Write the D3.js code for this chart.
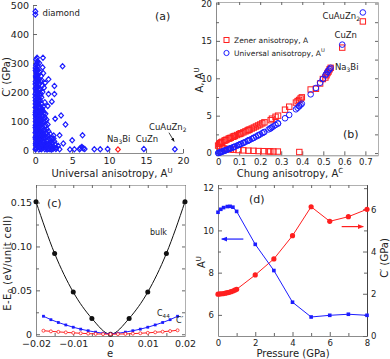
<!DOCTYPE html>
<html>
<head>
<meta charset="utf-8">
<script src="https://cdn.jsdelivr.net/npm/d3@7"></script>
<style>
  body { margin: 0; background: #fff; }
  text { font-family: "DejaVu Sans", Verdana, sans-serif; fill: #222; }
</style>
</head>
<body>
<svg id="fig" width="390" height="359"></svg>
<script>
// (a) C' (GPa) against universal anisotropy A^U, one pair per compound
const compounds = [
  [0.02,3],[0.15,7],[0.3,11],[0.08,16],[0.45,20],[0.22,24],[0.1,29],[0.38,33],[0.05,38],[0.28,42],[0.6,46],[0.12,50],
  [0.33,55],[0.02,60],[0.2,64],[0.5,68],[0.09,73],[0.27,77],[0.4,82],[0.04,86],[0.18,91],[0.55,95],[0.12,100],[0.32,104],
  [0.06,109],[0.24,113],[0.45,118],[0.02,122],[0.15,127],[0.35,131],[0.08,136],[0.26,140],[0.5,145],[0.11,150],[0.3,154],
  [0.04,159],[0.2,163],[0.42,168],[0.09,172],[0.25,177],[0.02,181],[0.16,186],[0.36,190],[0.07,195],[0.28,199],[0.12,204],
  [0.48,208],[0.03,213],[0.2,217],[0.33,222],[0.1,226],[0.24,231],[0.05,236],[0.4,240],[0.14,245],[0.3,250],[0.07,255],
  [0.2,260],[0.45,265],[0.12,270],[0.28,276],[0.05,283],[0.35,290],[0.18,296],[0.3,305],[0.12,312],[0.25,318],
  [0.1,5],[0.25,15],[0.05,22],[0.35,28],[0.18,35],[0.02,44],[0.4,50],[0.22,58],[0.1,66],[0.3,70],[0.03,78],[0.15,84],
  [0.35,88],[0.25,95],[0.05,98],[0.2,106],[0.4,112],[0.1,116],[0.28,121],[0.04,130],[0.2,134],[0.4,138],[0.15,143],
  [0.03,147],[0.22,150],[0.38,157],[0.1,161],[0.28,166],[0.05,170],[0.15,175],[0.33,182],[0.22,188],[0.02,192],
  [0.4,196],[0.18,201],[0.08,210],[0.3,214],[0.15,220],[0.03,228],[0.3,234],[0.2,240],[0.1,250],[0.35,256],[0.15,265],
  [0.05,274],[0.22,282],[0.1,292],[0.25,300],
  [0.7,5],[0.9,12],[1.1,18],[0.65,26],[0.85,34],[1.2,40],[0.75,48],[1.0,57],[0.6,66],[0.95,74],[1.3,82],[0.7,90],
  [0.88,100],[1.1,108],[0.62,118],[0.8,128],[1.05,135],[0.7,146],[0.9,158],[0.65,170],[0.85,182],[1.2,128],[0.75,195],
  [0.6,210],[0.95,222],[0.7,238],[0.8,255],[0.6,270],[1.0,285],[0.55,300],[1.05,318],
  [0.5,2],[0.55,10],[0.8,20],[0.4,25],[1.0,28],[0.75,37],[0.5,42],[0.95,52],[0.45,58],[0.7,62],[0.38,70],[0.8,78],
  [0.55,85],[1.0,92],[0.65,102],[0.45,110],[0.9,116],[0.4,124],[0.6,133],[0.95,142],[0.5,156],[0.35,162],[0.55,176],
  [0.7,188],[0.45,200],[0.55,228],[0.45,245],
  [0.6,8],[0.85,3],[1.05,8],[0.65,15],[0.9,22],[1.15,28],[0.6,32],[0.85,44],[1.05,48],[0.6,55],[0.8,60],[1.15,70],
  [0.55,76],[0.85,88],[1.15,98],[0.75,108],[0.55,112],[1.0,120],[0.75,138],[0.6,150],[0.85,140],
  [1.3,3],[1.5,8],[1.8,5],[2.1,10],[2.4,4],[1.4,15],[1.7,20],[2.0,18],[2.3,25],[1.25,28],[1.6,32],[1.9,38],[2.6,30],
  [1.35,45],[1.75,50],[2.2,42],[1.5,60],[1.3,70],[1.8,65],[1.45,85],[2.4,12],[2.7,20],[2.9,8],[3.1,15],[2.5,50],
  [1.55,105],[1.4,125],[1.2,95],[1.15,60],[1.2,10],[1.6,2],[2.0,3],[1.1,150],[1.3,165],[1.0,200],[1.2,215],[0.9,240],[1.1,265],
  [1.4,22],[1.65,12],[1.95,26],[2.2,2],[1.3,38],[1.55,44],[2.05,55],[1.25,52],[1.6,72],[1.4,100],[2.5,40],[2.8,4],
  [3.3,3],[1.3,112],[1.7,88],[2.2,32],[1.9,14],[2.6,8],
  [3.7,289],[1.8,244],[1.35,232],[2.6,221],[2.6,193],[1.8,193],[2.25,167],[1.7,152],[3.5,119],[2.7,108],[4.1,88],
  [3.3,51],[5.0,34],[6.4,51],[3.8,23],[6.1,7],[6.3,11],[6.5,6],[6.7,4],[6.0,3],[4.7,2],[5.3,3],[8.0,3],[8.8,3],
  [9.8,4],[14.7,4],[18.9,3],
  [0.02,467],[0.02,478]
];
const na3biPoint = [[11.2, 2]];

// (b) Chung anisotropy A^C against Zener A and universal A^U
const chung = [0,0.005,0.01,0.015,0.02,0.03,0.035,0.04,0.05,0.055,0.06,0.07,0.075,0.08,0.09,0.1,0.105,0.11,0.12,0.13,
  0.14,0.145,0.15,0.16,0.17,0.18,0.19,0.2,0.21,0.22,0.25,0.256,0.273,0.285,0.318,0.338,0.37,0.378,0.385,0.392,0.398,
  0.44,0.465,0.485,0.498,0.51,0.515,0.52,0.525,0.53,0.535,0.59,0.688,
  0.01,0.02,0.03,0.045,0.06,0.073,0.097,0.12,0.144,0.168,0.192,0.216,0.24,0.248,0.263,0.284,0.386];
const zener = [1,1.23,1.34,1.43,1.51,1.65,1.72,1.79,1.92,1.98,2.04,2.17,2.23,2.29,2.41,2.53,2.59,2.65,2.77,2.9,
  3.02,3.09,3.15,3.28,3.41,3.55,3.69,3.82,3.97,4.11,4.4,4.6,4.85,5.0,5.8,6.2,6.75,6.95,7.1,7.3,7.45,
  8.5,8.6,9.3,9.9,10.1,10.4,10.7,10.9,11.2,11.4,14.1,17.6,
  0.75,0.66,0.6,0.54,0.49,0.45,0.4,0.36,0.32,0.3,0.27,0.25,0.23,0.22,0.21,0.2,0.14];
const universal = [0,0.05,0.1,0.15,0.2,0.31,0.36,0.42,0.53,0.58,0.64,0.75,0.81,0.87,0.99,1.11,1.17,1.24,1.36,1.49,
  1.63,1.7,1.76,1.9,2.05,2.2,2.35,2.5,2.66,2.82,3.3,3.45,3.75,3.95,4.65,5.1,5.85,6.05,6.25,6.45,6.6,
  7.85,8.7,9.4,9.9,10.4,10.6,10.85,11.05,11.2,11.4,14.5,18.8,
  0.1,0.2,0.31,0.47,0.64,0.79,1.07,1.36,1.68,2.02,2.38,2.76,3.16,3.3,3.57,3.97,6.29];

// (c) E - E0 (eV/unit cell) against strain e
const strainBulk = [-0.02,-0.015,-0.01,-0.005,0,0.005,0.01,0.015,0.02];
const energyBulk = [0.151,0.092,0.048,0.018,0,0.018,0.048,0.092,0.151];
const strainShear = [-0.018,-0.016,-0.014,-0.012,-0.01,-0.008,-0.006,-0.004,-0.002,0,
  0.002,0.004,0.006,0.008,0.01,0.012,0.014,0.016,0.018];
const energyC44 = [0.0205,0.0166,0.0134,0.0106,0.008,0.0058,0.004,0.0024,0.0011,0.0003,
  0.0011,0.0024,0.004,0.0058,0.008,0.0106,0.0134,0.0166,0.0205];
const energyCp = [0.004,0.0033,0.0027,0.0021,0.0016,0.0011,0.0007,0.0004,0.0002,0.0001,
  0.0002,0.0004,0.0007,0.0011,0.0016,0.0022,0.0029,0.0036,0.0045];

// (d) Na3Bi under pressure (GPa)
const pressureAU = [0,0.15,0.3,0.5,0.65,0.8,1.0,2,3,4,5,6,7,8];
const anisoAU = [10.86,11.0,11.08,11.13,11.14,11.1,10.9,9.34,8.1,6.6,5.9,5.98,6.03,5.98];
const pressureCp = [0,0.1,0.2,0.3,0.4,0.5,0.6,0.7,0.8,0.9,1.0,2,3,4,5,6,7,8];
const shearCp = [1.98,1.99,2.0,2.01,2.03,2.05,2.07,2.1,2.13,2.17,2.21,2.89,3.65,4.75,6.12,5.43,5.65,6.0];

const blue = "#1c1cff", red = "#ff1f1f";
const svg = d3.select("svg#fig");

const defs = svg.append("defs");
[["arrBlue", blue], ["arrRed", red], ["arrBlack", "#111"]].forEach(([id, c]) => {
  defs.append("marker").attr("id", id).attr("viewBox", "0 0 10 10")
    .attr("refX", 9).attr("refY", 5).attr("markerWidth", 5).attr("markerHeight", 5)
    .attr("orient", "auto")
    .append("path").attr("d", "M0,1L10,5L0,9Z").attr("fill", c);
});

function tidy(g, domainColor = "#8c8c8c", size = 9) {
  g.attr("font-family", null).attr("font-size", null);
  g.select(".domain").attr("stroke", domainColor);
  g.selectAll(".tick line").attr("stroke", "#666");
  g.selectAll(".tick text").attr("font-size", size).attr("fill", "#222");
}

// draw the axes of one panel: labelled bottom/left, optional minor ticks and box
function frame(x, y, o) {
  const [xa, xb] = x.range(), [ya, yb] = y.range();
  const fs = o.fontSize || 9.5;
  svg.append("g").attr("transform", `translate(0,${ya})`)
    .call(d3.axisBottom(x).tickValues(o.xTicks).tickFormat(o.xFormat || null)
      .tickSize(-4).tickSizeOuter(0).tickPadding(4))
    .call(g => tidy(g, "#8c8c8c", fs));
  svg.append("g").attr("transform", `translate(${xa},0)`)
    .call(d3.axisLeft(y).tickValues(o.yTicks).tickFormat(o.yFormat || null)
      .tickSize(-4).tickSizeOuter(0).tickPadding(4))
    .call(g => tidy(g, o.leftColor || "#8c8c8c", fs));
  if (o.xMinor) svg.append("g").attr("transform", `translate(0,${ya})`)
    .call(d3.axisBottom(x).tickValues(o.xMinor).tickFormat("").tickSize(-3).tickSizeOuter(0))
    .call(g => { g.select(".domain").remove(); g.selectAll("line").attr("stroke", "#666"); });
  if (o.yMinor) svg.append("g").attr("transform", `translate(${xa},0)`)
    .call(d3.axisLeft(y).tickValues(o.yMinor).tickFormat("").tickSize(-3).tickSizeOuter(0))
    .call(g => { g.select(".domain").remove(); g.selectAll("line").attr("stroke", "#666"); });
  if (o.box) {
    svg.append("g").attr("transform", `translate(0,${yb})`)
      .call(d3.axisTop(x).tickValues(o.xTicks.concat(o.xMinor || [])).tickFormat("").tickSize(-3).tickSizeOuter(0))
      .call(g => tidy(g, "#b0b0b0"));
    if (!o.noRight) svg.append("g").attr("transform", `translate(${xb},0)`)
      .call(d3.axisRight(y).tickValues(o.yTicks.concat(o.yMinor || [])).tickFormat("").tickSize(-3).tickSizeOuter(0))
      .call(g => tidy(g, "#b0b0b0"));
  }
}

// text with optional sub/superscripts: parts are strings or {sub}/{sup}
function label(x, y, parts, o = {}) {
  const size = o.size || 10;
  const t = svg.append("text").attr("x", x).attr("y", y)
    .attr("font-size", size)
    .attr("text-anchor", o.anchor || "start")
    .attr("fill", o.color || "#222");
  if (o.rotate) t.attr("transform", `rotate(${o.rotate},${x},${y})`);
  if (o.spacing) t.attr("letter-spacing", o.spacing);
  let shift = 0;
  parts.forEach(p => {
    if (typeof p === "string") {
      t.append("tspan").attr("dy", -shift).text(p);
      shift = 0;
    } else {
      const d = p.sup ? -4 : 2;
      t.append("tspan").attr("font-size", size * 0.7).attr("dy", d - shift).text(p.sup || p.sub);
      shift = d;
    }
  });
  return t;
}

const zeroOr = fmt => d => (d === 0 ? "0" : d3.format(fmt)(d));

// diamond marker used in (a)
const diamond = { draw(ctx, size) {
  const r = Math.sqrt(size) * 0.62;
  ctx.moveTo(0, -r); ctx.lineTo(r * 0.9, 0); ctx.lineTo(0, r); ctx.lineTo(-r * 0.9, 0); ctx.closePath();
} };

// ---------------- (a) ----------------
const xA = d3.scaleLinear().domain([-0.3, 20]).range([33, 183]);
const yA = d3.scaleLinear().domain([-10, 500]).range([153, 5]);
frame(xA, yA, { xTicks: [0, 5, 10, 15, 20], yTicks: [0, 100, 200, 300, 400, 500] });

svg.append("g").selectAll("path").data(compounds).join("path")
  .attr("transform", d => `translate(${xA(d[0])},${yA(d[1])})`)
  .attr("d", d3.symbol(diamond, 18))
  .attr("fill", "none").attr("stroke", blue).attr("stroke-width", 1.2);
svg.append("g").selectAll("path").data(na3biPoint).join("path")
  .attr("transform", d => `translate(${xA(d[0])},${yA(d[1])})`)
  .attr("d", d3.symbol(diamond, 18))
  .attr("fill", "none").attr("stroke", red).attr("stroke-width", 1.2);

label(xA(1), yA(463), ["diamond"], { size: 8.5 });
label(xA(9.7), yA(27), ["Na", { sub: "3" }, "Bi"], { size: 8.5, color: red });
label(xA(13.6), yA(27), ["CuZn"], { size: 8.5 });
label(xA(15.4), yA(70), ["CuAuZn", { sub: "2" }], { size: 8.5 });
svg.append("line").attr("x1", xA(18.1)).attr("y1", yA(60)).attr("x2", xA(18.8)).attr("y2", yA(30))
  .attr("stroke", "#111").attr("stroke-width", 0.8).attr("marker-end", "url(#arrBlack)");
label(155, 20, ["(a)"], { size: 11 });
label(112, 177, ["Universal anisotropy, A", { sup: "U" }], { anchor: "middle" });
label(10, 77, ["C\u2032 (GPa)"], { rotate: -90, anchor: "middle" });

// ---------------- (b) ----------------
const xB = d3.scaleLinear().domain([-0.01, 0.76]).range([216, 378]);
const yB = d3.scaleLinear().domain([-0.3, 20.2]).range([155.3, 2]);
frame(xB, yB, {
  xTicks: [0, 0.1, 0.2, 0.3, 0.4, 0.5, 0.6, 0.7], xFormat: zeroOr(".1f"),
  yTicks: [0, 5, 10, 15, 20], yMinor: [2.5, 7.5, 12.5, 17.5], box: true, fontSize: 8.5
});
const rowsB = chung.map((c, i) => ({ c, a: zener[i], u: universal[i] }));
svg.append("g").selectAll("rect").data(rowsB).join("rect")
  .attr("x", d => xB(d.c) - 2.7).attr("y", d => yB(d.a) - 2.7)
  .attr("width", 5.4).attr("height", 5.4)
  .attr("fill", "none").attr("stroke", red).attr("stroke-width", 1);
svg.append("g").selectAll("circle").data(rowsB).join("circle")
  .attr("cx", d => xB(d.c)).attr("cy", d => yB(d.u)).attr("r", 2.8)
  .attr("fill", "none").attr("stroke", blue).attr("stroke-width", 1);

svg.append("rect").attr("x", 224).attr("y", 37.5).attr("width", 5).attr("height", 5)
  .attr("fill", "none").attr("stroke", red);
svg.append("circle").attr("cx", 226.5).attr("cy", 53).attr("r", 2.6)
  .attr("fill", "none").attr("stroke", blue);
label(234, 43, ["Zener anisotropy, A"], { size: 7.5 });
label(234, 56, ["Universal  anisotropy, A", { sup: "U" }], { size: 7.5 });
label(360, 19, ["CuAuZn", { sub: "2" }], { size: 8.5, anchor: "end" });
label(357, 38, ["CuZn"], { size: 8.5, anchor: "end" });
label(335, 70, ["Na", { sub: "3" }, "Bi"], { size: 8.5 });
label(343, 138, ["(b)"], { size: 11 });
label(290, 177, ["Chung anisotropy, A", { sup: "C" }], { anchor: "middle" });
label(203, 80, ["A, A", { sup: "U" }], { rotate: -90, anchor: "middle" });

// ---------------- (c) ----------------
const xC = d3.scaleLinear().domain([-0.02, 0.02]).range([36, 185]);
const yC = d3.scaleLinear().domain([-0.002, 0.17]).range([336, 185]);
frame(xC, yC, {
  xTicks: [-0.02, -0.01, 0, 0.01, 0.02], xMinor: [-0.015, -0.005, 0.005, 0.015], xFormat: zeroOr(".2f"),
  yTicks: [0, 0.05, 0.1, 0.15], yMinor: [0.025, 0.075, 0.125], yFormat: zeroOr(".2f"), box: true
});
const lineC = d3.line().x(d => xC(d[0])).y(d => yC(d[1]));
const bulkPts = strainBulk.map((e, i) => [e, energyBulk[i]]);
const c44Pts = strainShear.map((e, i) => [e, energyC44[i]]);
const cpPts = strainShear.map((e, i) => [e, energyCp[i]]);
svg.append("path").attr("d", lineC.curve(d3.curveMonotoneX)(bulkPts))
  .attr("fill", "none").attr("stroke", "#111").attr("stroke-width", 1);
svg.append("g").selectAll("circle").data(bulkPts).join("circle")
  .attr("cx", d => xC(d[0])).attr("cy", d => yC(d[1])).attr("r", 2.5).attr("fill", "#111");
svg.append("path").attr("d", lineC.curve(d3.curveLinear)(c44Pts))
  .attr("fill", "none").attr("stroke", blue).attr("stroke-width", 1);
svg.append("g").selectAll("rect").data(c44Pts).join("rect")
  .attr("x", d => xC(d[0]) - 1.4).attr("y", d => yC(d[1]) - 1.4)
  .attr("width", 2.8).attr("height", 2.8).attr("fill", blue);
svg.append("path").attr("d", lineC(cpPts))
  .attr("fill", "none").attr("stroke", red).attr("stroke-width", 1);
svg.append("g").selectAll("circle").data(cpPts).join("circle")
  .attr("cx", d => xC(d[0])).attr("cy", d => yC(d[1])).attr("r", 1.5)
  .attr("fill", "#fff").attr("stroke", red).attr("stroke-width", 0.8);
label(150, 235, ["bulk"], { size: 8 });
label(157, 316, ["C", { sub: "44" }], { size: 8, color: blue });
label(176, 323, ["C\u2032"], { size: 8, color: red });
label(47, 207, ["(c)"], { size: 11 });
label(110, 357, ["e"], { anchor: "middle" });
label(11, 263, ["E-E", { sub: "0" }, " (eV/unit cell)"], { rotate: -90, anchor: "middle", spacing: 0.4 });

// ---------------- (d) ----------------
const xD = d3.scaleLinear().domain([0, 8]).range([218, 367]);
const yD = d3.scaleLinear().domain([5, 12.15]).range([336, 185]);
const yD2 = d3.scaleLinear().domain([0, 7.15]).range([336, 185]);
frame(xD, yD, {
  xTicks: [0, 2, 4, 6, 8], xMinor: [1, 3, 5, 7],
  yTicks: [6, 8, 10, 12], yMinor: [7, 9, 11], box: true, noRight: true, fontSize: 8.5
});
svg.append("g").attr("transform", `translate(${xD.range()[1]},0)`)
  .call(d3.axisRight(yD2).tickValues([0, 2, 4, 6]).tickSize(-4).tickSizeOuter(0).tickPadding(4))
  .call(g => tidy(g, "#444", 8.5));
svg.append("g").attr("transform", `translate(${xD.range()[1]},0)`)
  .call(d3.axisRight(yD2).tickValues([1, 3, 5, 7]).tickFormat("").tickSize(-3).tickSizeOuter(0))
  .call(g => { g.select(".domain").remove(); g.selectAll("line").attr("stroke", "#666"); });

const auPts = pressureAU.map((p, i) => [p, anisoAU[i]]);
const cpPtsD = pressureCp.map((p, i) => [p, shearCp[i]]);
svg.append("path").attr("d", d3.line().x(d => xD(d[0])).y(d => yD2(d[1]))(cpPtsD))
  .attr("fill", "none").attr("stroke", red).attr("stroke-width", 1);
svg.append("g").selectAll("circle").data(cpPtsD).join("circle")
  .attr("cx", d => xD(d[0])).attr("cy", d => yD2(d[1])).attr("r", 2.6).attr("fill", red);
svg.append("path").attr("d", d3.line().x(d => xD(d[0])).y(d => yD(d[1]))(auPts))
  .attr("fill", "none").attr("stroke", blue).attr("stroke-width", 1);
svg.append("g").selectAll("rect").data(auPts).join("rect")
  .attr("x", d => xD(d[0]) - 1.8).attr("y", d => yD(d[1]) - 1.8)
  .attr("width", 3.6).attr("height", 3.6).attr("fill", blue);

svg.append("line").attr("x1", xD(1.36)).attr("x2", xD(0.2)).attr("y1", yD(9.59)).attr("y2", yD(9.59))
  .attr("stroke", blue).attr("stroke-width", 1.2).attr("marker-end", "url(#arrBlue)");
svg.append("line").attr("x1", xD(6.64)).attr("x2", xD(7.8)).attr("y1", yD2(5.18)).attr("y2", yD2(5.18))
  .attr("stroke", red).attr("stroke-width", 1.2).attr("marker-end", "url(#arrRed)");
label(249, 203, ["(d)"], { size: 11 });
label(293, 357, ["Pressure (GPa)"], { anchor: "middle" });
label(205, 262, ["A", { sup: "U" }], { rotate: -90, anchor: "middle" });
label(388, 258, ["C\u2032 (GPa)"], { rotate: -90, anchor: "middle" });
</script>
</body>
</html>
